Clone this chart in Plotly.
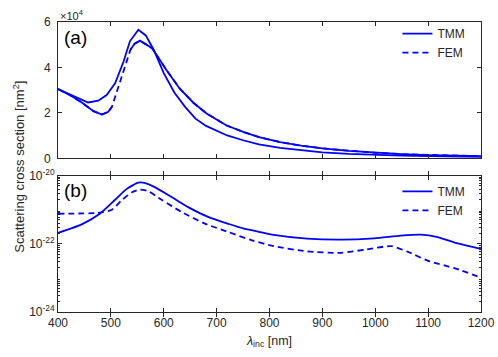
import plotly.graph_objects as go
from plotly.subplots import make_subplots

# panel (a): scattering cross section, linear scale [nm^2]
wl_a_tmm = [400, 420, 440, 457, 476, 492, 508, 524, 536, 552, 566, 581, 600, 620, 640, 660,
            680, 700, 720, 750, 780, 820, 860, 900, 950, 1000, 1050, 1100, 1150, 1200]
cs_a_tmm = [30500, 28500, 26400, 24600, 25400, 27900, 33000, 42600, 51500, 56600, 54100, 47800,
            37500, 29000, 22800, 17500, 14300, 12100, 10100, 8000, 6200, 4600, 3500, 2700,
            2000, 1500, 1200, 1000, 850, 700]

wl_a_fem = [400, 420, 445, 467, 483, 495, 502, 537, 545, 555, 578, 605, 630, 656, 681, 718,
            750, 780, 820, 860, 900, 950, 1000, 1050, 1100, 1150, 1200]
cs_a_fem = [30500, 28200, 24600, 20800, 19300, 20500, 22700, 47800, 50500, 51800, 48500, 38900,
            30800, 24500, 19800, 14600, 11700, 9400, 7200, 5600, 4400, 3300, 2500, 1900,
            1500, 1200, 1000]

# panel (b): log scale [nm^2]
wl_b_tmm = [400, 445, 479, 508, 530, 552, 565, 583, 615, 647, 685, 723, 750, 780, 808, 871,
            935, 998, 1048, 1086, 1118, 1156, 1200]
cs_b_tmm = [2.09e-22, 3.72e-22, 7.59e-22, 1.95e-21, 4.07e-21, 6.17e-21, 6.03e-21, 4.57e-21,
            2.34e-21, 1.17e-21, 6.03e-22, 3.80e-22, 2.82e-22, 2.24e-22, 1.82e-22, 1.41e-22,
            1.32e-22, 1.45e-22, 1.74e-22, 1.86e-22, 1.58e-22, 1.02e-22, 7.08e-23]

wl_b_fem = [400, 470, 482, 502, 520, 540, 555, 571, 596, 634, 678, 723, 767, 808, 871, 935,
            982, 1030, 1062, 1100, 1151, 1200]
cs_b_fem = [7.6e-22, 7.9e-22, 8.3e-22, 1.0e-21, 1.86e-21, 3.24e-21, 3.89e-21, 3.47e-21,
            1.95e-21, 8.5e-22, 3.89e-22, 2.19e-22, 1.26e-22, 8.5e-23, 6.0e-23, 5.4e-23,
            6.8e-23, 8.5e-23, 5.8e-23, 3.16e-23, 1.9e-23, 1.02e-23]

x_ticks = [400, 500, 600, 700, 800, 900, 1000, 1100, 1200]
ya_ticks = [0, 20000, 40000, 60000]
ya_text = ['0', '2', '4', '6']
yb_ticks = [1e-24, 1e-22, 1e-20]
yb_text = ['10<sup>-24</sup>', '10<sup>-22</sup>', '10<sup>-20</sup>']

BLUE = '#0000ff'
AX = '#262626'
FONT = 'Liberation Sans, Arial, sans-serif'

fig = make_subplots(rows=2, cols=1, shared_xaxes=False, vertical_spacing=0.059)

# FEM in (a): dashed trace, with solid overlay where the samples are dense
fig.add_trace(go.Scatter(x=wl_a_tmm, y=cs_a_tmm, mode='lines', name='TMM',
                         line=dict(color=BLUE, width=1.8), legend='legend'), row=1, col=1)
fig.add_trace(go.Scatter(x=wl_a_fem, y=cs_a_fem, mode='lines', name='FEM',
                         line=dict(color=BLUE, width=1.8, dash='6px,4px'), legend='legend'),
              row=1, col=1)
gap = wl_a_fem.index(502) + 1
fig.add_trace(go.Scatter(x=wl_a_fem[:gap] + [None] + wl_a_fem[gap:],
                         y=cs_a_fem[:gap] + [None] + cs_a_fem[gap:], mode='lines',
                         line=dict(color=BLUE, width=1.8), showlegend=False,
                         connectgaps=False, hoverinfo='skip'), row=1, col=1)

fig.add_trace(go.Scatter(x=wl_b_tmm, y=cs_b_tmm, mode='lines', name='TMM',
                         line=dict(color=BLUE, width=1.8, shape='spline', smoothing=0.6),
                         legend='legend2'), row=2, col=1)
fig.add_trace(go.Scatter(x=wl_b_fem, y=cs_b_fem, mode='lines', name='FEM',
                         line=dict(color=BLUE, width=1.8, dash='6px,4px', shape='spline',
                                   smoothing=0.6),
                         legend='legend2'), row=2, col=1)

axis_style = dict(showline=True, linecolor=AX, linewidth=1, mirror='allticks', ticks='inside',
                  ticklen=4, tickcolor=AX, showgrid=False, zeroline=False, automargin=False,
                  tickfont=dict(family=FONT, size=12, color=AX))

fig.update_xaxes(range=[400, 1200], tickvals=x_ticks, **axis_style)
fig.update_xaxes(showticklabels=False, row=1, col=1)
fig.update_xaxes(title=dict(text='<i>λ</i><sub>inc</sub> [nm]',
                            font=dict(family=FONT, size=12.5, color=AX), standoff=6),
                 row=2, col=1)
fig.update_yaxes(range=[0, 60000], tickvals=ya_ticks, ticktext=ya_text, row=1, col=1,
                 ticklabelstandoff=4, **axis_style)
fig.update_yaxes(type='log', range=[-24, -20], tickvals=yb_ticks, ticktext=yb_text,
                 row=2, col=1, **axis_style)

# minor log ticks of panel (b) on an overlaid axis
minor_vals = [k * 10.0 ** n for n in range(-24, -20) for k in range(2, 10)]
fig.add_trace(go.Scatter(x=[None], y=[None], xaxis='x2', yaxis='y3', showlegend=False,
                         hoverinfo='skip'))
fig.update_layout(yaxis3=dict(overlaying='y2', anchor='x2', type='log', range=[-24, -20],
                              tickvals=minor_vals, showticklabels=False, showline=True,
                              linecolor=AX, mirror='allticks', ticks='inside', ticklen=2,
                              tickcolor=AX, showgrid=False, zeroline=False, automargin=False))

legend_style = dict(bgcolor='rgba(0,0,0,0)', borderwidth=0, xanchor='right', yanchor='top',
                    font=dict(family=FONT, size=12, color=AX), tracegroupgap=0,
                    itemwidth=30)
fig.update_layout(
    width=498, height=357,
    margin=dict(l=58, r=17, t=22, b=45),
    plot_bgcolor='white', paper_bgcolor='white',
    legend=dict(x=0.975, y=1.01, **legend_style),
    legend2=dict(x=0.975, y=0.466, **legend_style),
    annotations=[
        dict(text='(a)', xref='paper', yref='paper', x=0.01, y=0.99, xanchor='left',
             yanchor='top', showarrow=False, font=dict(family=FONT, size=19, color='black')),
        dict(text='(b)', xref='paper', yref='paper', x=0.01, y=0.462, xanchor='left',
             yanchor='top', showarrow=False, font=dict(family=FONT, size=19, color='black')),
        dict(text='×10<sup>4</sup>', xref='paper', yref='paper', x=0.0, y=1.0,
             xanchor='left', yanchor='bottom', yshift=-2, showarrow=False,
             font=dict(family=FONT, size=11, color=AX)),
        dict(text='Scattering cross section [nm<sup>2</sup>]', xref='paper', yref='paper',
             x=-0.093, y=0.5, xanchor='center', yanchor='middle', textangle=-90,
             showarrow=False, font=dict(family=FONT, size=13, color=AX)),
    ],
)

# drop the page's default body margin so the figure sits at the window corner
fig.write_html("out.html", config={'displayModeBar': False},
               post_script="document.body.style.margin='0';document.body.style.overflow='hidden';")
